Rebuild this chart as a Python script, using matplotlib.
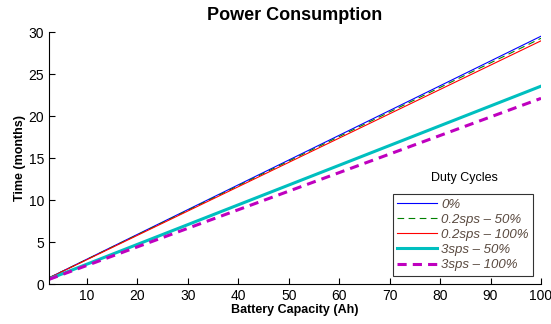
import matplotlib
matplotlib.use("Agg")
import matplotlib.pyplot as plt

plt.rcParams['font.family'] = ['Liberation Sans', 'DejaVu Sans']

# battery capacity (Ah) and lifetime (months) at the ends of each line
capacity = [2.5, 100]
t_0 = [0.74, 29.5]
t_02_50 = [0.73, 29.25]
t_02_100 = [0.72, 28.95]
t_3_50 = [0.59, 23.55]
t_3_100 = [0.55, 22.1]

labels = ['0%', '0.2sps \u2013 50%', '0.2sps \u2013 100%', '3sps \u2013 50%', '3sps \u2013 100%']

fig = plt.figure(figsize=(5.51, 3.24), dpi=100)
ax = fig.add_axes([49/551, 1-284/324, (541-49)/551, (284-32)/324])

ax.plot(capacity, t_0, color='#0000ff', lw=0.8, label=labels[0])
ax.plot(capacity, t_02_50, color='#008000', lw=0.8, ls=(0, (6, 4)), label=labels[1])
ax.plot(capacity, t_02_100, color='#ff0000', lw=0.8, label=labels[2])
ax.plot(capacity, t_3_50, color='#00bfbf', lw=2.2, label=labels[3])
ax.plot(capacity, t_3_100, color='#bf00bf', lw=2.2, ls=(0, (3, 2)), label=labels[4])

ax.set_xlim(2.5, 100)
ax.set_ylim(0, 30)
ax.set_xticks(range(10, 101, 10))
ax.set_yticks(range(0, 31, 5))
ax.spines['top'].set_visible(False)
ax.spines['right'].set_visible(False)
ax.tick_params(direction='in', length=4, labelsize=10)

ax.set_title('Power Consumption', fontsize=13, fontweight='bold', pad=9)
ax.set_xlabel('Battery Capacity (Ah)', fontsize=9, fontweight='bold', labelpad=1)
ax.set_ylabel('Time (months)', fontsize=9, fontweight='bold', labelpad=2)

leg = ax.legend(loc='lower right', bbox_to_anchor=(0.99, 0.022), fontsize=9.5,
                frameon=True, fancybox=False, edgecolor='black',
                handlelength=3.0, handletextpad=0.35, borderpad=0.35, labelspacing=0.22,
                borderaxespad=0.2)
leg.get_frame().set_linewidth(0.8)
for t in leg.get_texts():
    t.set_style('italic')
    t.set_color('#5a4a40')
fig.text(464/551, 1-178/324, 'Duty Cycles', ha='center', va='center', fontsize=9)

fig.savefig('out.png', dpi=100)
